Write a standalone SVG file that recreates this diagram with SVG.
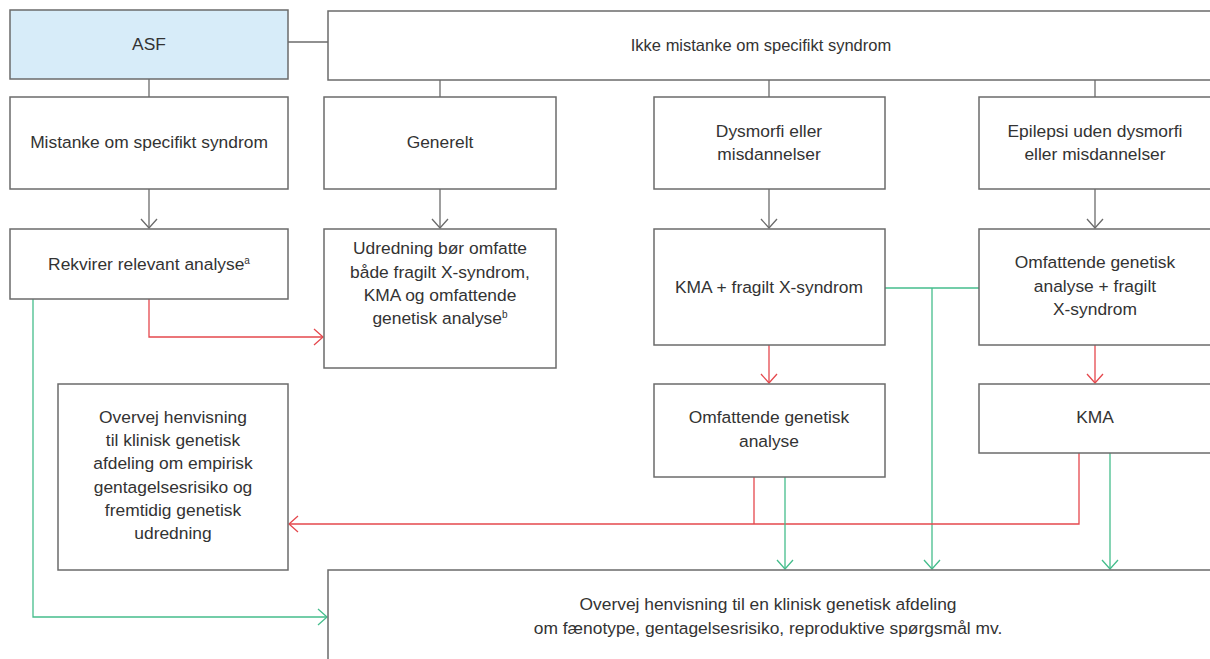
<svg xmlns="http://www.w3.org/2000/svg" width="1210" height="659" viewBox="0 0 1210 659">
<style>
.box{fill:#fff;stroke:#6b6b6b;stroke-width:1.5}
.asf{fill:#d7ecf9}
text{font-family:"Liberation Sans",Arial,sans-serif;font-size:17.4px;fill:#333;text-anchor:middle}
.narrow{font-size:16.5px}
.g{fill:none;stroke:#6b6b6b;stroke-width:1.3}
.r{fill:none;stroke:#e5484d;stroke-width:1.3}
.gr{fill:none;stroke:#45bd8c;stroke-width:1.3}
.sup{font-size:10px}
</style>
<defs>
<marker id="ag" markerUnits="userSpaceOnUse" markerWidth="20" markerHeight="20" viewBox="0 0 20 20" refX="10" refY="10" orient="auto"><path d="M1,2 L10,10 L1,18" fill="none" stroke="#6b6b6b" stroke-width="1.3"/></marker>
<marker id="ar" markerUnits="userSpaceOnUse" markerWidth="20" markerHeight="20" viewBox="0 0 20 20" refX="10" refY="10" orient="auto"><path d="M1,2 L10,10 L1,18" fill="none" stroke="#e5484d" stroke-width="1.3"/></marker>
<marker id="agr" markerUnits="userSpaceOnUse" markerWidth="20" markerHeight="20" viewBox="0 0 20 20" refX="10" refY="10" orient="auto"><path d="M1,2 L10,10 L1,18" fill="none" stroke="#45bd8c" stroke-width="1.3"/></marker>
</defs>
<rect width="1210" height="659" fill="#fff"/>
<g id="connectors">
<path class="g" d="M288,42 H328"/>
<path class="g" d="M149,79 V97"/>
<path class="g" d="M440,80 V97"/>
<path class="g" d="M769,80 V97"/>
<path class="g" d="M1095,80 V97"/>
<path class="g" d="M149,189 V228" marker-end="url(#ag)"/>
<path class="g" d="M440,189 V228" marker-end="url(#ag)"/>
<path class="g" d="M769,189 V228" marker-end="url(#ag)"/>
<path class="g" d="M1095,189 V228" marker-end="url(#ag)"/>
<path class="r" d="M149,299 V337 H323" marker-end="url(#ar)"/>
<path class="gr" d="M33,299 V617 H327" marker-end="url(#agr)"/>
<path class="gr" d="M885,288 H979"/>
<path class="gr" d="M932,288 V569" marker-end="url(#agr)"/>
<path class="r" d="M769,345 V383" marker-end="url(#ar)"/>
<path class="r" d="M1095,345 V383" marker-end="url(#ar)"/>
<path class="r" d="M754,477 V524"/>
<path class="r" d="M1079,453 V524 H289" marker-end="url(#ar)"/>
<path class="gr" d="M785,477 V569" marker-end="url(#agr)"/>
<path class="gr" d="M1110,453 V569" marker-end="url(#agr)"/>
</g>
<g id="asf"><rect class="box asf" x="10" y="10" width="278" height="69"/><text x="149" y="50">ASF</text></g>
<g id="ikke"><rect class="box" x="328" y="11" width="890" height="69"/><text class="narrow" x="761" y="51">Ikke mistanke om specifikt syndrom</text></g>
<g id="mistanke"><rect class="box" x="10" y="97" width="278" height="92"/><text x="149" y="148">Mistanke om specifikt syndrom</text></g>
<g id="generelt"><rect class="box" x="324" y="97" width="232" height="92"/><text x="440" y="148">Generelt</text></g>
<g id="dysmorfi"><rect class="box" x="654" y="97" width="231" height="92"/><text x="769" y="137">Dysmorfi eller</text><text x="769" y="160">misdannelser</text></g>
<g id="epilepsi"><rect class="box" x="979" y="97" width="240" height="92"/><text x="1095" y="137">Epilepsi uden dysmorfi</text><text x="1095" y="160">eller misdannelser</text></g>
<g id="rekvirer"><rect class="box" x="10" y="229" width="278" height="70"/><text x="149" y="270">Rekvirer relevant analyse<tspan class="sup" dy="-6">a</tspan></text></g>
<g id="udredning"><rect class="box" x="324" y="229" width="232" height="139"/><text x="440" y="254">Udredning bør omfatte</text><text x="440" y="278">både fragilt X-syndrom,</text><text x="440" y="301">KMA og omfattende</text><text x="440" y="324">genetisk analyse<tspan class="sup" dy="-6">b</tspan></text></g>
<g id="kma-fragilt"><rect class="box" x="654" y="229" width="231" height="116"/><text x="769" y="293">KMA + fragilt X-syndrom</text></g>
<g id="omf-fragilt"><rect class="box" x="979" y="229" width="240" height="116"/><text x="1095" y="268">Omfattende genetisk</text><text x="1095" y="292">analyse + fragilt</text><text x="1095" y="315">X-syndrom</text></g>
<g id="overvej-left"><rect class="box" x="58" y="384" width="230" height="186"/><text x="173" y="423">Overvej henvisning</text><text x="173" y="446">til klinisk genetisk</text><text x="173" y="469">afdeling om empirisk</text><text x="173" y="493">gentagelsesrisiko og</text><text x="173" y="516">fremtidig genetisk</text><text x="173" y="539">udredning</text></g>
<g id="omf-analyse"><rect class="box" x="654" y="384" width="231" height="93"/><text x="769" y="423">Omfattende genetisk</text><text x="769" y="447">analyse</text></g>
<g id="kma"><rect class="box" x="979" y="384" width="240" height="69"/><text x="1095" y="423">KMA</text></g>
<g id="overvej-bottom"><rect class="box" x="328" y="570" width="890" height="100"/><text x="768" y="610">Overvej henvisning til en klinisk genetisk afdeling</text><text x="768" y="634">om fænotype, gentagelsesrisiko, reproduktive spørgsmål mv.</text></g>
</svg>
